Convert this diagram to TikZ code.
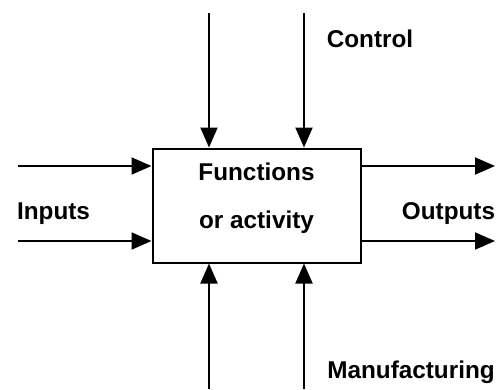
\documentclass[tikz,border=0pt]{standalone}
\usepackage{fontspec}
\setmainfont{Liberation Sans}
\usetikzlibrary{arrows.meta}
\begin{document}
\begin{tikzpicture}[x=1pt,y=-1pt,
  lbl/.style={font=\bfseries\fontsize{24.3}{27}\selectfont, inner sep=0pt, anchor=base},
  arr/.style={line width=1.9pt, -{Triangle[length=20pt,width=17pt]}},
  ln/.style={line width=1.9pt}]
\useasboundingbox (0,0) rectangle (504,389);
\node[draw, line width=2pt, minimum width=208pt, minimum height=114pt, inner sep=0pt] (box) at (256.5,205.5) {};
\node[lbl] (f1) at (256.5,180) {Functions};
\node[lbl] (f2) at (256.5,228) {or activity};
\node[lbl] (in) at (53.5,219) {Inputs};
\node[lbl] (out) at (448.5,219) {Outputs};
\node[lbl] (ctl) at (370,47) {Control};
\node[lbl] (man) at (411,378) {Manufacturing};
% coordinates for free ends
\coordinate (i1) at (18,166);
\coordinate (i2) at (18,241);
\coordinate (o1) at (495,166);
\coordinate (o2) at (495,241);
\coordinate (c1) at (209,13);
\coordinate (c2) at (304,13);
\coordinate (m1) at (209,389);
\coordinate (m2) at (304,389);
\draw[arr] (i1) -- (i1 -| box.west);
\draw[arr] (i2) -- (i2 -| box.west);
\draw[arr] (o1 -| box.east) -- (o1);
\draw[arr] (o2 -| box.east) -- (o2);
\draw[arr] (c1) -- (c1 |- box.north);
\draw[arr] (c2) -- (c2 |- box.north);
\draw[arr] (m1) -- (m1 |- box.south);
\draw[arr] (m2) -- (m2 |- box.south);
\end{tikzpicture}
\end{document}
